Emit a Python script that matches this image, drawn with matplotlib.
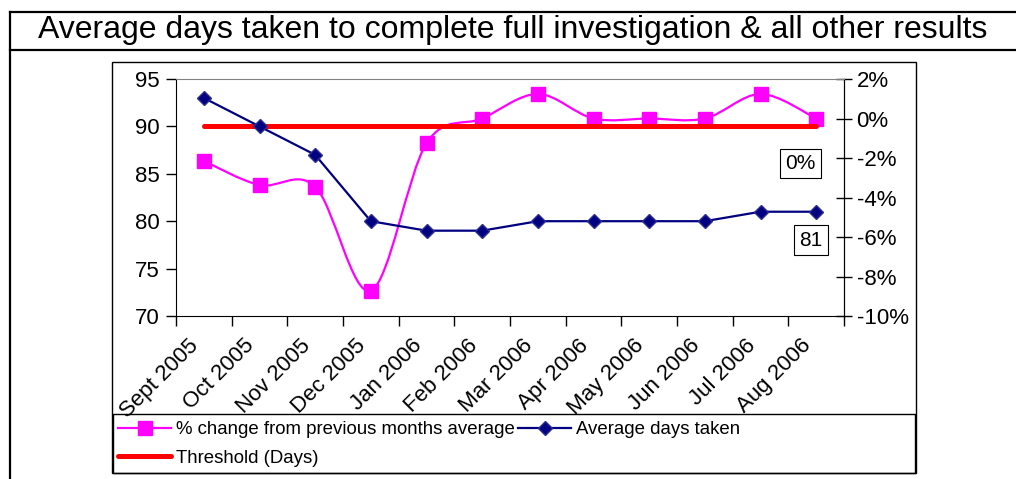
import matplotlib
matplotlib.use("Agg")
import matplotlib.pyplot as plt
from matplotlib.path import Path
from matplotlib.patches import PathPatch, Rectangle
from matplotlib.lines import Line2D
import matplotlib.transforms as mtransforms

plt.rcParams['font.family'] = ['Liberation Sans', 'DejaVu Sans']

# ---------------- data ----------------
months = ["Sept 2005", "Oct 2005", "Nov 2005", "Dec 2005", "Jan 2006", "Feb 2006",
          "Mar 2006", "Apr 2006", "May 2006", "Jun 2006", "Jul 2006", "Aug 2006"]
avg_days = [93, 90, 87, 80, 79, 79, 80, 80, 80, 80, 81, 81]
pct_change = [-2.15, -3.37, -3.45, -8.72, -1.26, 0.0, 1.24, 0.0, 0.0, 0.0, 1.24, 0.0]
threshold = [90] * 12
left_ticks = [70, 75, 80, 85, 90, 95]
right_ticks = [-10, -8, -6, -4, -2, 0, 2]
title = "Average days taken to complete full investigation & all other results"

W, H = 1016, 479
fig = plt.figure(figsize=(W / 100, H / 100), dpi=100)


def fx(x):
    return x / W


def fy(y):
    return 1 - y / H


# ---------------- table frame & title ----------------
for (x0, y0, x1, y1) in [(10, 12, W, 12), (10, 50, W, 50), (10, 12, 10, H)]:
    fig.add_artist(Line2D([fx(x0), fx(x1)], [fy(y0), fy(y1)], transform=fig.transFigure,
                          color='black', lw=1.6))
fig.text(fx(513), fy(38), title, ha='center', va='baseline', fontsize=23)

# chart area border
fig.add_artist(Rectangle((fx(112), fy(473)), fx(916) - fx(112), fy(62) - fy(473),
                         transform=fig.transFigure, fill=False, ec='black', lw=1.0))
# legend border
fig.add_artist(Rectangle((fx(113), fy(473)), fx(915) - fx(113), fy(414) - fy(473),
                         transform=fig.transFigure, fill=False, ec='black', lw=1.0))

# ---------------- axes ----------------
ax = fig.add_axes([fx(176), fy(316), fx(844) - fx(176), fy(79) - fy(316)])
ax2 = ax.twinx()
ax.set_zorder(ax2.get_zorder() + 1)
ax.patch.set_visible(False)

x = list(range(len(months)))
ax.set_xlim(-0.5, len(months) - 0.5)
ax.set_ylim(70, 95)
ax2.set_ylim(-10, 2)

# pink smoothed series (Catmull-Rom as cubic Bezier)
n = len(pct_change)
P = list(zip(x, pct_change))
verts = [P[0]]
codes = [Path.MOVETO]
for i in range(n - 1):
    p0 = P[max(i - 1, 0)]
    p1 = P[i]
    p2 = P[i + 1]
    p3 = P[min(i + 2, n - 1)]
    c1 = (p1[0] + (p2[0] - p0[0]) / 6, p1[1] + (p2[1] - p0[1]) / 6)
    c2 = (p2[0] - (p3[0] - p1[0]) / 6, p2[1] - (p3[1] - p1[1]) / 6)
    verts += [c1, c2, p2]
    codes += [Path.CURVE4] * 3
ax2.add_patch(PathPatch(Path(verts, codes), fill=False, ec='#FF00FF', lw=1.6, zorder=2))
ax2.plot(x, pct_change, linestyle='none', marker='s', ms=10.5, mfc='#FF00FF',
         mec='#FF00FF', zorder=3)

# threshold & average days
ax.plot(x, threshold, color='#FF0000', lw=3.6, solid_capstyle='round', zorder=2)
ax.plot(x, avg_days, color='#000080', lw=1.6, marker='D', ms=7.5, mfc='#000080',
        mec='#2E2E90', mew=1.0, zorder=3)

# ticks
ax.set_yticks(left_ticks)
ax.set_yticklabels([str(v) for v in left_ticks])
ax2.set_yticks(right_ticks)
ax2.set_yticklabels([f"{v}%" for v in right_ticks])
ax.tick_params(axis='y', direction='out', length=7, width=1, labelsize=16, pad=5)
ax2.tick_params(axis='y', direction='inout', length=12, width=1, labelsize=16, pad=3)

bounds = [i - 0.5 for i in range(len(months) + 1)]
ax.set_xticks(bounds)
ax.set_xticklabels([''] * len(bounds))
ax.tick_params(axis='x', which='major', direction='out', length=7, width=1)
ax.set_xticks(x, minor=True)
ax.set_xticklabels(months, minor=True, rotation=45, ha='right', va='center',
                   rotation_mode='anchor', fontsize=16)
ax.tick_params(axis='x', which='minor', length=0, pad=19)
off = mtransforms.ScaledTranslation(-8 / 100, 0, fig.dpi_scale_trans)
for lab in ax.get_xticklabels(minor=True):
    lab.set_transform(lab.get_transform() + off)

for s in ['left', 'bottom', 'right']:
    ax.spines[s].set_color('black')
ax.spines['top'].set_color('#808080')
for s in ax2.spines.values():
    s.set_visible(False)
ax2.spines['right'].set_visible(True)
ax2.spines['right'].set_color('black')

# data labels
bbox = dict(boxstyle='square,pad=0.25', fc='white', ec='black', lw=0.8)
ax.annotate(f"{pct_change[-1]:.0f}%", xy=(x[-1], pct_change[-1]), xycoords=ax2.transData,
            xytext=(-11.5, -32.5), textcoords='offset points', ha='center', va='center',
            fontsize=15, bbox=bbox, zorder=10)
ax.annotate(f"{avg_days[-1]}", xy=(x[-1], avg_days[-1]), xycoords='data',
            xytext=(-3.6, -20.4), textcoords='offset points', ha='center', va='center',
            fontsize=15, bbox=bbox, zorder=10)

# legend
h_pink = Line2D([], [], color='#FF00FF', lw=1.6, marker='s', ms=10.5, mfc='#FF00FF', mec='#FF00FF')
h_blue = Line2D([], [], color='#000080', lw=1.6, marker='D', ms=7.5, mfc='#000080', mec='#2E2E90')
h_red = Line2D([], [], color='#FF0000', lw=3.6, solid_capstyle='round')
fig.legend([h_pink, h_red, h_blue],
           ["% change from previous months average", "Threshold (Days)", "Average days taken"],
           ncol=2, loc='upper left', bbox_to_anchor=(fx(118), fy(421)),
           bbox_transform=fig.transFigure, frameon=False, fontsize=13.4,
           handlelength=2.85, handletextpad=0.25, columnspacing=0.2, labelspacing=0.62,
           borderpad=0, borderaxespad=0, numpoints=1)

fig.savefig("out.png", dpi=100)
